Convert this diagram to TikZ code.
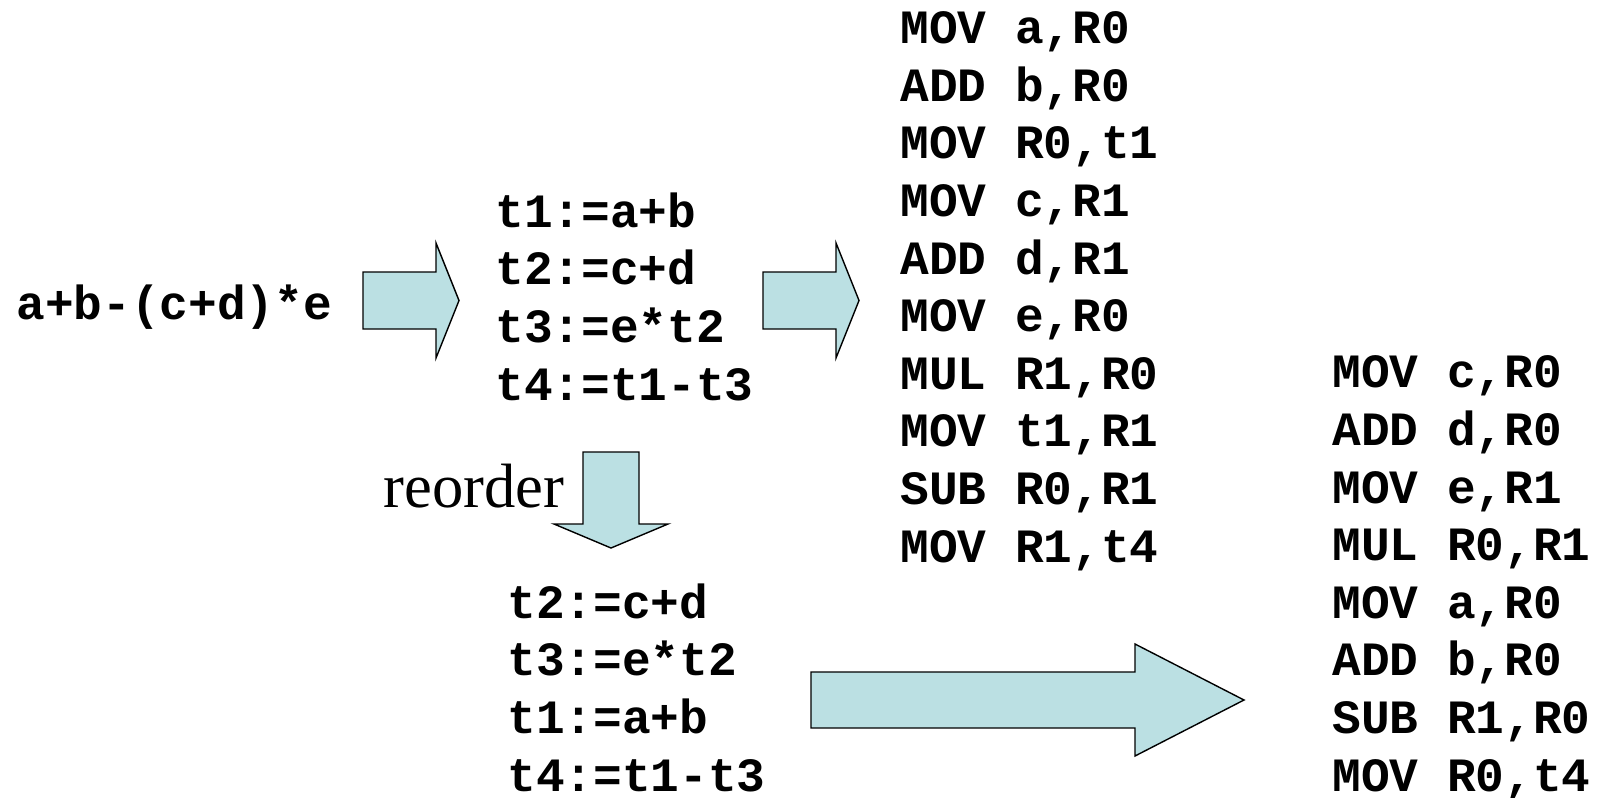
\documentclass[tikz,border=0pt]{standalone}
\usepackage{fontspec}
\setmainfont{Liberation Serif}
\setmonofont{Liberation Mono}
\definecolor{arrowfill}{RGB}{187,224,227}
\tikzset{
  code/.style={font=\ttfamily\bfseries\fontsize{23.9}{28.8}\selectfont, align=left, inner sep=0pt, anchor=base west},
  blockarrow/.style={draw=black, fill=arrowfill, line width=0.7pt, line join=miter}
}
\begin{document}
\begin{tikzpicture}[x=0.5pt, y=-0.5pt]
    \useasboundingbox (0,0) rectangle (1602,798);
    % multi-line nodes sit on the baseline of their last line
    \node (expr) at (16, 319) [code] {a+b-(c+d)*e};
    \node (tac) at (495, 400) [code] {t1:=a+b\\t2:=c+d\\t3:=e*t2\\t4:=t1-t3};
    \node (naive) at (900, 562) [code] {MOV a,R0\\ADD b,R0\\MOV R0,t1\\MOV c,R1\\ADD d,R1\\MOV e,R0\\MUL R1,R0\\MOV t1,R1\\SUB R0,R1\\MOV R1,t4};
    \node (tacre) at (507, 791) [code] {t2:=c+d\\t3:=e*t2\\t1:=a+b\\t4:=t1-t3};
    \node (better) at (1332, 791) [code] {MOV c,R0\\ADD d,R0\\MOV e,R1\\MUL R0,R1\\MOV a,R0\\ADD b,R0\\SUB R1,R0\\MOV R0,t4};
    \node (reorder) at (383, 507) [inner sep=0pt, anchor=base west, font=\fontsize{31.3}{36}\selectfont] {reorder};
    \draw[blockarrow] (363,272) -- (436,272) -- (436,243) -- (459,300.5) -- (436,358) -- (436,329) -- (363,329) -- cycle;
    \draw[blockarrow] (763,272) -- (836,272) -- (836,243) -- (859,300.5) -- (836,358) -- (836,329) -- (763,329) -- cycle;
    \draw[blockarrow] (583,452) -- (639,452) -- (639,524) -- (668,524) -- (611,548) -- (554,524) -- (583,524) -- cycle;
    \draw[blockarrow] (811,672) -- (1135,672) -- (1135,644) -- (1244,700) -- (1135,756) -- (1135,728) -- (811,728) -- cycle;
  \end{tikzpicture}
\end{document}
